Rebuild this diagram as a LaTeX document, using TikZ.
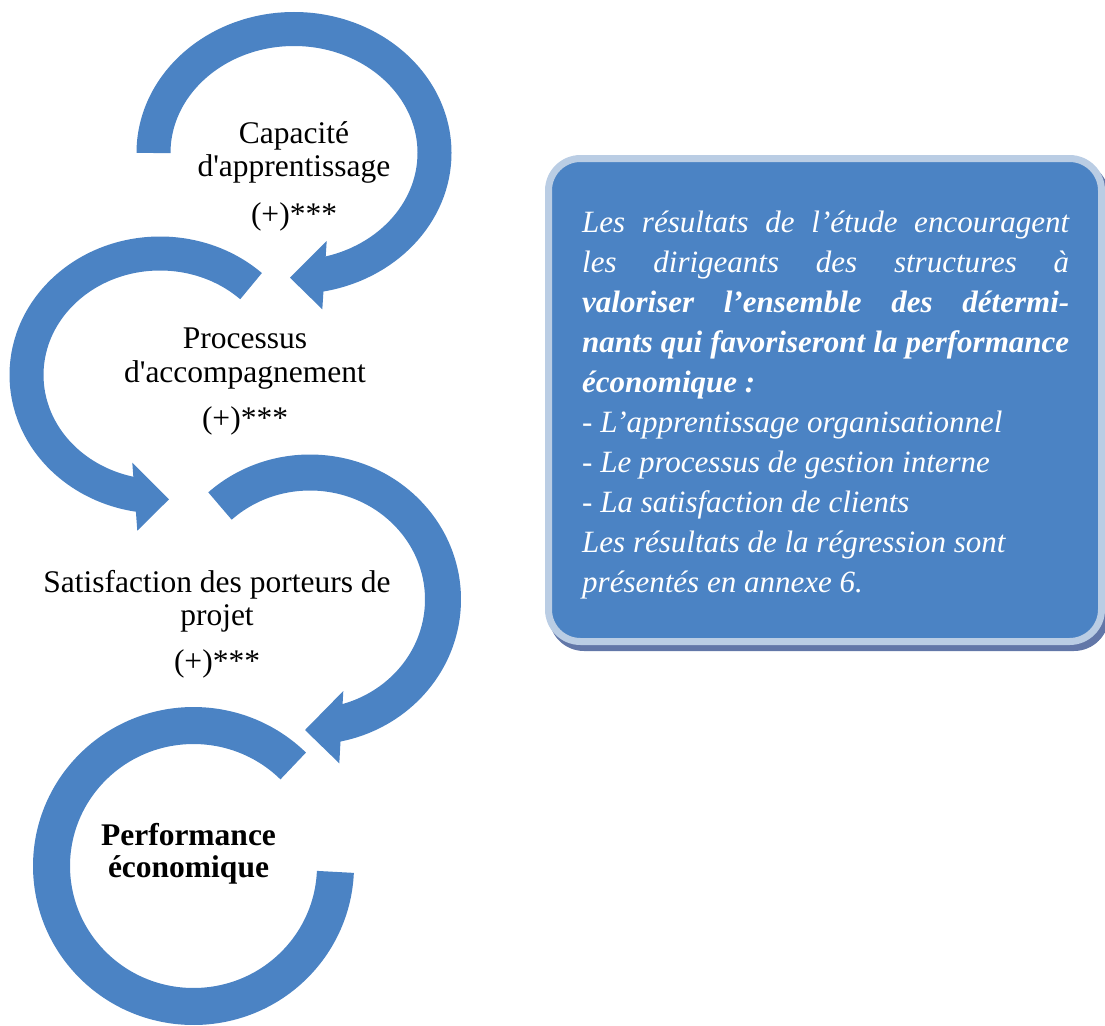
\documentclass[tikz,border=0pt]{standalone}
\usepackage{fontspec}
\setmainfont{Liberation Serif}
\usetikzlibrary{calc}

\definecolor{bleu}{RGB}{75,131,196}
\definecolor{bleuclair}{RGB}{186,205,228}
\definecolor{ombre}{RGB}{98,119,168}

\begin{document}
\begin{tikzpicture}[x=1pt,y=1pt,
  anneau/.style={draw=bleu,line width=#1},
  pointe/.style={fill=bleu},
  etiq/.style={anchor=base,inner sep=0pt,font=\fontsize{31.5}{36}\selectfont},
  ligne/.style={anchor=base west,inner sep=0pt,text=white,font=\fontsize{31}{40}\selectfont\itshape}]
\useasboundingbox (0,0) rectangle (1105,-1025);

% centres des arcs
\coordinate (cA) at (294,-153);
\coordinate (cB) at (160,-375);
\coordinate (cC) at (310,-599.5);
\coordinate (cD) at (193.5,-866);

% fleches circulaires
\draw[anneau=34pt] (cA) ++(180:140.5 and 124) arc[start angle=180,end angle=-80,x radius=140.5,y radius=124];
\draw[anneau=34pt] (cB) ++(47:133.5 and 121.5) arc[start angle=47,end angle=262,x radius=133.5,y radius=121.5];
\draw[anneau=36pt] (cC) ++(132.6:133 and 127) arc[start angle=132.6,end angle=-79,x radius=133,y radius=127];
\draw[anneau=37pt] (cD) ++(45.4:142 and 140.5) arc[start angle=45.4,end angle=357.6,x radius=142,y radius=140.5];

% pointes
\fill[pointe] (326.7,-241) -- (290,-277.7) -- (322.3,-309.3) -- cycle;
\fill[pointe] (132.3,-462.7) -- (169,-499.3) -- (137.3,-530.7) -- cycle;
\fill[pointe] (343.3,-691) -- (305,-730) -- (339.3,-763.3) -- cycle;

\node[etiq] (capa1) at (294,-143) {Capacité};
\node[etiq] (capa2) at (294,-176) {d\textquotesingle apprentissage};
\node[etiq] (capa3) at (294,-224) {(+)***};

\node[etiq] (proc1) at (245,-348) {Processus};
\node[etiq] (proc2) at (245,-382) {d\textquotesingle accompagnement};
\node[etiq] (proc3) at (245,-428) {(+)***};

\node[etiq] (sat1) at (217,-592) {Satisfaction des porteurs de};
\node[etiq] (sat2) at (217,-625) {projet};
\node[etiq] (sat3) at (217,-671) {(+)***};

\node[etiq] (perf1) at (188.5,-845) {\bfseries Performance};
\node[etiq] (perf2) at (188.5,-877) {\bfseries économique};

% encadre
\fill[ombre,rounded corners=35pt] (549,-161) rectangle (1109,-651);
\draw[draw=bleuclair,line width=7pt,fill=bleu,rounded corners=32pt] (548.5,-158.5) rectangle (1101.5,-641.5);

\node[ligne] (l1) at (582,-232) {\makebox[487pt][s]{Les résultats de l’étude encouragent}};
\node[ligne] (l2) at (582,-272) {\makebox[487pt][s]{les dirigeants des structures à}};
\node[ligne] (l3) at (582,-312) {\makebox[487pt][s]{\bfseries valoriser l’ensemble des détermi-}};
\node[ligne] (l4) at (582,-352) {\makebox[487pt][s]{\bfseries nants qui favoriseront la performance}};
\node[ligne] (l5) at (582,-392) {\bfseries économique :};
\node[ligne] (l6) at (582,-432) {- L’apprentissage organisationnel};
\node[ligne] (l7) at (582,-472) {- Le processus de gestion interne};
\node[ligne] (l8) at (582,-512) {- La satisfaction de clients};
\node[ligne] (l9) at (582,-552) {Les résultats de la régression sont};
\node[ligne] (l10) at (582,-592) {présentés en annexe 6.};
\end{tikzpicture}
\end{document}
